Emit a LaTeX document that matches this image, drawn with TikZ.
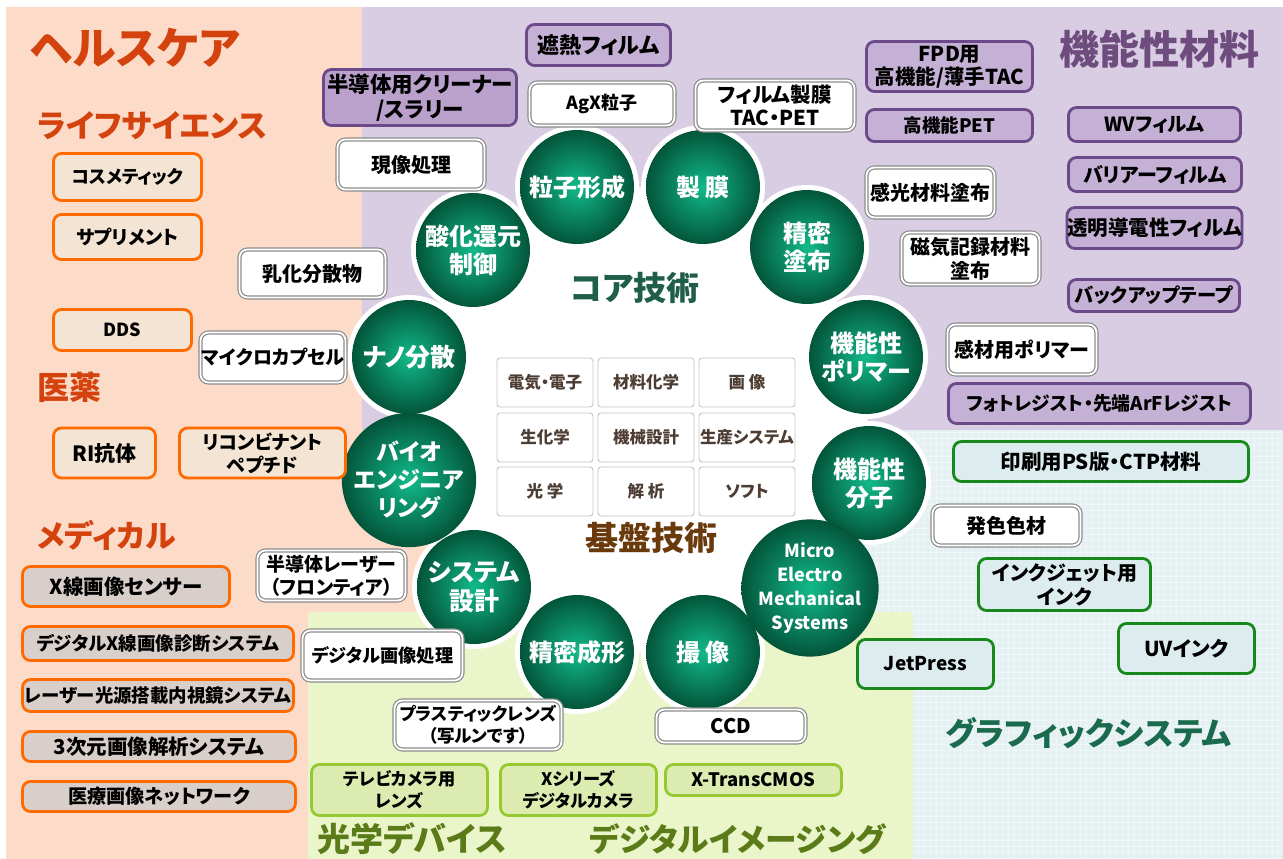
\documentclass[tikz,border=0pt]{standalone}
\usepackage{fontspec}
\setmainfont{Noto Sans CJK JP}[RawFeature=+palt]
\definecolor{peach}{HTML}{FCDCC8}
\definecolor{purplebg}{HTML}{D9CDE4}
\definecolor{bluebg}{HTML}{E4F0F2}
\definecolor{bluegrid}{HTML}{EEF6F7}
\definecolor{limebg}{HTML}{EAF5C9}
\definecolor{pedge}{HTML}{6C4A8A}
\definecolor{pfill}{HTML}{C5B1D5}
\definecolor{pfilldark}{HTML}{B9A1CC}
\definecolor{oedge}{HTML}{FF6A00}
\definecolor{ofill}{HTML}{F4E4D4}
\definecolor{mfill}{HTML}{D9CFCA}
\definecolor{gedge}{HTML}{16891A}
\definecolor{gfill}{HTML}{DCECEF}
\definecolor{ledge}{HTML}{96C832}
\definecolor{lfill}{HTML}{DCEBB0}
\definecolor{wedge}{HTML}{8C8C8C}
\definecolor{ballin}{HTML}{12BA8A}
\definecolor{ballout}{HTML}{03553A}
\definecolor{torange}{HTML}{D4420E}
\definecolor{tpurple}{HTML}{6E4C7E}
\definecolor{tgraphic}{HTML}{1A6B4D}
\definecolor{toptic}{HTML}{5B7A18}
\definecolor{tcore}{HTML}{1F5E47}
\definecolor{tkiban}{HTML}{6A3A0C}
\definecolor{tgrid}{HTML}{4D3D33}
\definecolor{gridedge}{HTML}{C8C4C2}
\newcommand{\bsz}[2]{\bfseries\fontsize{#1}{#2}\selectfont}
\tikzset{
  boxbase/.style={align=center, inner sep=0pt, rounded corners=8pt, text=black},
  wbox/.style={boxbase, draw=wedge, double=white, double distance=1.8pt, line width=1.2pt, fill=white},
  pbox/.style={boxbase, draw=pedge, line width=2.8pt, fill=pfill},
  obox/.style={boxbase, draw=oedge, line width=2.8pt, fill=ofill},
  mbox/.style={obox, fill=mfill},
  gbox/.style={boxbase, draw=gedge, line width=2.8pt, fill=gfill},
  lbox/.style={boxbase, draw=ledge, line width=2.8pt, fill=lfill},
  ball/.style={circle, minimum size=114pt, inner sep=0pt, shading=radial, inner color=ballin, outer color=ballout, text=white, align=center},
  gridcell/.style={draw=gridedge, line width=0.9pt, fill=white, rounded corners=3pt, minimum width=96pt, minimum height=49pt, inner sep=0pt, text=tgrid, font=\bsz{16.5}{19}},
  title/.style={inner sep=0pt, anchor=west}
}
\begin{document}
\begin{tikzpicture}[x=1pt,y=-1pt]
\useasboundingbox (0,0) rectangle (1283,859);
% backgrounds
\fill[white] (0,0) rectangle (1283,859);
\fill[peach] (6,7) -- (362,7) -- (362,430) -- (640,430) -- (640,612) -- (308,612) -- (308,859) -- (6,859) -- cycle;
\fill[purplebg] (362,7) rectangle (1283,430);
\fill[bluebg] (640,430) -- (1283,430) -- (1283,859) -- (913,859) -- (913,612) -- (640,612) -- cycle;
\begin{scope}
  \clip (640,430) -- (1283,430) -- (1283,859) -- (913,859) -- (913,612) -- (640,612) -- cycle;
  \draw[bluegrid, line width=0.6pt, step=6pt] (640,430) grid (1283,859);
\end{scope}
\fill[limebg] (308,612) rectangle (913,859);

% ring coordinates
\foreach \n/\x/\y in {c1/577/187, c2/703/187, c3/807/247, c4/866/357, c5/869/483, c6/810/588, c7/703/652, c8/577/652, c9/474/587, c10/409/480, c11/409/357, c12/473/250}
  \coordinate (\n) at (\x,\y);
\fill[white] (c1) -- (c2) -- (c3) -- (c4) -- (c5) -- (c6) -- (c7) -- (c8) -- (c9) -- (c10) -- (c11) -- (c12) -- cycle;
\foreach \n in {c1,c2,c3,c4,c5,c6,c7,c8,c9,c10,c11,c12}
  \fill[white] (\n) circle[radius=62pt];

% core circles
\node[ball, font=\bsz{24}{28}] (b1) at (c1) {粒子形成};
\node[ball, font=\bsz{24}{28}] (b2) at (c2) {製\ 膜};
\node[ball, font=\bsz{24}{28}] (b3) at (c3) {精密\\塗布};
\node[ball, font=\bsz{24}{28}] (b4) at (c4) {機能性\\ポリマー};
\node[ball, font=\bsz{24}{28}] (b5) at (c5) {機能性\\分子};
\node[ball, font=\bsz{18}{24}] (b6) at (c6) {Micro\\Electro\\Mechanical\\Systems};
\node[ball, font=\bsz{24}{28}] (b7) at (c7) {撮\ 像};
\node[ball, font=\bsz{24}{28}] (b8) at (c8) {精密成形};
\node[ball, font=\bsz{25}{29}] (b9) at (c9) {システム\\設計};
\node[ball, font=\bsz{23}{28}] (b10) at (c10) {バイオ\\エンジニア\\リング};
\node[ball, font=\bsz{25}{29}] (b11) at (c11) {ナノ分散};
\node[ball, font=\bsz{24}{28}] (b12) at (c12) {酸化還元\\制御};

% center grid
\node[gridcell] (g11) at (545,382.5) {電気・電子};
\node[gridcell] (g12) at (646,382.5) {材料化学};
\node[gridcell] (g13) at (747,382.5) {画\ 像};
\node[gridcell] (g21) at (545,437.5) {生化学};
\node[gridcell] (g22) at (646,437.5) {機械設計};
\node[gridcell] (g23) at (747,437.5) {生産システム};
\node[gridcell] (g31) at (545,491.5) {光\ 学};
\node[gridcell] (g32) at (646,491.5) {解\ 析};
\node[gridcell] (g33) at (747,491.5) {ソフト};
\node[inner sep=0pt, text=tcore, font=\bsz{33}{36}] (core) at (635,288) {コア技術};
\node[inner sep=0pt, text=tkiban, font=\bsz{33}{36}] (kiban) at (651,538) {基盤技術};

% life science
\node[obox, minimum width=148pt, minimum height=47pt, font=\bsz{18}{22}] (cosm) at (127.5,177) {コスメティック};
\node[obox, minimum width=148pt, minimum height=45pt, font=\bsz{19}{23}] (supp) at (127.5,237) {サプリメント};
\node[obox, minimum width=138pt, minimum height=41pt, font=\bsz{18}{22}] (dds) at (122.5,330) {DDS};
\node[obox, minimum width=102pt, minimum height=50pt, font=\bsz{21}{24}] (ri) at (104.5,453) {RI抗体};
\node[obox, minimum width=166pt, minimum height=50pt, font=\bsz{19}{23}] (recomb) at (262.5,453) {リコンビナント\\ペプチド};
% medical
\node[mbox, minimum width=207pt, minimum height=40pt, font=\bsz{20.5}{24}] (xsens) at (126,586.5) {X線画像センサー};
\node[mbox, minimum width=271pt, minimum height=34pt, font=\bsz{18.5}{22}] (dxr) at (158,643.5) {デジタルX線画像診断システム};
\node[mbox, minimum width=271pt, minimum height=32pt, font=\bsz{18.4}{22}] (laser) at (158,695.5) {レーザー光源搭載内視鏡システム};
\node[mbox, minimum width=273pt, minimum height=30pt, font=\bsz{20.5}{23}] (tdim) at (159,746.5) {3次元画像解析システム};
\node[mbox, minimum width=273pt, minimum height=30pt, font=\bsz{19.2}{23}] (net) at (159,796.5) {医療画像ネットワーク};

% white boxes
\node[wbox, minimum width=147pt, minimum height=50pt, font=\bsz{20}{24}] (genzo) at (411,164.5) {現像処理};
\node[wbox, minimum width=145pt, minimum height=43pt, font=\bsz{18}{22}] (agx) at (602,104) {AgX粒子};
\node[wbox, minimum width=159pt, minimum height=50pt, font=\bsz{20.5}{23}] (filmtac) at (775,105.5) {フィルム製膜\\TAC・PET};
\node[wbox, minimum width=128pt, minimum height=50pt, font=\bsz{20}{24}] (kanko) at (930.5,192.5) {感光材料塗布};
\node[wbox, minimum width=138pt, minimum height=52pt, font=\bsz{20}{24}] (jiki) at (970.5,258.5) {磁気記録材料\\塗布};
\node[wbox, minimum width=149pt, minimum height=50pt, font=\bsz{20}{24}] (kanzai) at (1022,349.5) {感材用ポリマー};
\node[wbox, minimum width=148pt, minimum height=40pt, font=\bsz{20}{24}] (hassh) at (1006.5,525.5) {発色色材};
\node[wbox, minimum width=146pt, minimum height=48pt, font=\bsz{20}{24}] (nyuka) at (312.5,273.5) {乳化分散物};
\node[wbox, minimum width=145pt, minimum height=50pt, font=\bsz{19}{23}] (mcap) at (273,357.5) {マイクロカプセル};
\node[wbox, minimum width=148pt, minimum height=50pt, font=\bsz{19}{23}] (hlaser) at (331.5,575.5) {半導体レーザー\\（フロンティア）};
\node[wbox, minimum width=160pt, minimum height=50pt, font=\bsz{18.2}{22}] (digimg) at (382.5,655.5) {デジタル画像処理};
\node[wbox, minimum width=167pt, minimum height=49pt, font=\bsz{17.5}{22}] (plastic) at (478,725) {プラスティックレンズ\\（写ルンです）};
\node[wbox, minimum width=149pt, minimum height=33pt, font=\bsz{20}{24}] (ccd) at (731,726) {CCD};

% purple boxes
\node[pbox, minimum width=144pt, minimum height=41pt, font=\bsz{22}{25}] (shan) at (598.5,45) {遮熱フィルム};
\node[pbox, fill=pfilldark, minimum width=193pt, minimum height=56pt, font=\bsz{21.5}{25}] (cleaner) at (420,97.5) {半導体用クリーナー\\/スラリー};
\node[pbox, minimum width=166pt, minimum height=50pt, font=\bsz{20.5}{23}] (fpd) at (949.5,66.5) {FPD用\\高機能/薄手TAC};
\node[pbox, minimum width=166pt, minimum height=32pt, font=\bsz{18.5}{23}] (hpet) at (949.5,125.5) {高機能PET};
\node[pbox, minimum width=172pt, minimum height=34pt, font=\bsz{19.5}{23}] (wv) at (1154.5,124.5) {WVフィルム};
\node[pbox, minimum width=173pt, minimum height=34pt, font=\bsz{20}{24}] (barrier) at (1155,174.5) {バリアーフィルム};
\node[pbox, minimum width=172pt, minimum height=41pt, font=\bsz{20.5}{24}] (toumei) at (1154.5,228) {透明導電性フィルム};
\node[pbox, minimum width=171pt, minimum height=32pt, font=\bsz{19.3}{23}] (backup) at (1154,295.5) {バックアップテープ};
\node[pbox, minimum width=302pt, minimum height=40pt, font=\bsz{18.8}{23}] (photo) at (1099.5,403.5) {フォトレジスト・先端ArFレジスト};

% graphic system boxes
\node[gbox, minimum width=295pt, minimum height=40pt, font=\bsz{20.5}{24}] (ps) at (1101,461.5) {印刷用PS版・CTP材料};
\node[gbox, minimum width=172pt, minimum height=52pt, font=\bsz{20}{24}] (inkjet) at (1064.5,584.5) {インクジェット用\\インク};
\node[gbox, minimum width=136pt, minimum height=49pt, font=\bsz{19}{23}] (jetpress) at (925.5,664) {JetPress};
\node[gbox, minimum width=136pt, minimum height=50pt, font=\bsz{20.5}{24}] (uv) at (1186.5,648.5) {UVインク};

% optical / digital imaging boxes
\node[lbox, minimum width=176pt, minimum height=51pt, font=\bsz{17.2}{22}] (tv) at (399.5,790) {テレビカメラ用\\レンズ};
\node[lbox, minimum width=156pt, minimum height=51pt, font=\bsz{17.2}{22}] (xser) at (578.5,790) {Xシリーズ\\デジタルカメラ};
\node[lbox, minimum width=176pt, minimum height=31pt, font=\bsz{18.5}{22}] (xtrans) at (753.5,780) {X-TransCMOS};

% titles
\node[title, text=torange, font=\bsz{44}{48}] (t_hc) at (30,48) {ヘルスケア};
\node[title, text=torange, font=\bsz{31.5}{35}] (t_ls) at (37,126) {ライフサイエンス};
\node[title, text=torange, font=\bsz{32}{35}] (t_iy) at (37,387) {医薬};
\node[title, text=torange, font=\bsz{31}{34}] (t_med) at (37,535) {メディカル};
\node[title, text=tpurple, font=\bsz{40}{43}] (t_kino) at (1059,49) {機能性材料};
\node[title, text=tgraphic, font=\bsz{32}{35}] (t_gr) at (945,733) {グラフィックシステム};
\node[title, text=toptic, font=\bsz{33}{36}] (t_opt) at (317,839) {光学デバイス};
\node[title, text=toptic, font=\bsz{31.7}{35}] (t_dig) at (589,839) {デジタルイメージング};
\end{tikzpicture}
\end{document}
